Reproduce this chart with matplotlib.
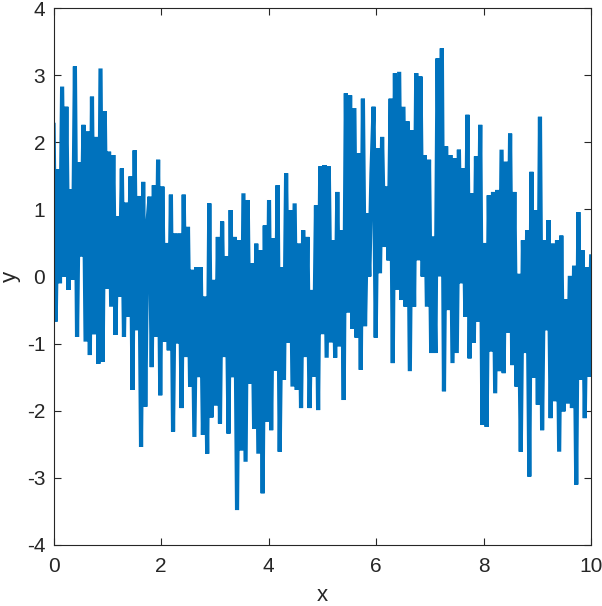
"""Noisy sinusoid, MATLAB-style line plot -> out.png"""

import numpy as np
import matplotlib
matplotlib.use("Agg")
import matplotlib.pyplot as plt

# ── Data (one list per unit of x) ─────────────────────────────────────
y_0_1 = [2.26, -0.67, 1.6, -0.1, 2.83, 0.0, 2.53, -0.2, 1.3, -0.05, 3.13, -0.90, 1.7,
         0.3, 2.26, -0.97, 2.16, -1.17, 2.68, -0.86, 2.08, -1.3, 3.10, -1.27, 2.46]
y_1_2 = [-0.18, 1.86, -0.45, 1.81, -0.87, 0.9, -0.3, 1.61, -0.9, 1.1, -0.6, 1.49, -1.69,
         1.88, -0.8, 1.2, -2.54, 1.41, -1.94, 0.8, 1.19, -1.35, 1.36, -0.9, 1.74]
y_2_3 = [-1.77, 1.34, -0.97, 0.5, -1.1, 1.22, -2.31, 0.64, -1.0, 0.64, -1.96, 1.22, -1.2,
         0.74, -1.64, 0.1, -2.39, 0.14, -1.5, 0.14, -2.36, -0.3, -2.64, 1.09, -2.1]
y_3_4 = [-0.05, -1.92, 0.59, -2.19, 0.82, -1.2, 0.3, -2.34, 0.99, -1.5, 0.59, -3.48, 0.54,
         -2.59, 1.24, -2.76, 1.14, -1.6, 0.2, -2.27, 0.49, -2.64, 0.39, -3.23, 0.76]
y_4_5 = [-2.16, 1.14, -2.29, 0.57, -1.4, 1.36, -2.61, 0.14, -1.54, 1.54, -0.99, 0.99, -1.64,
         1.09, -1.69, 0.49, -1.96, 0.69, -1.2, 0.59, -1.96, -0.2, -1.49, 1.06, -1.99]
y_5_6 = [1.64, -0.86, 1.66, -1.21, 1.64, -0.98, 0.54, -1.21, 1.26, -1.04, 0.69, -1.84, 2.73,
         -0.54, 2.70, -0.78, 2.51, -0.91, 1.84, -1.39, 2.65, -0.74, 0.94, 0.0, 1.54]
y_6_7 = [2.53, -0.91, 1.91, 0.05, 2.08, 0.44, 1.34, 0.24, 2.65, -1.29, 3.03, -0.2, 3.05,
         -0.35, 2.53, -0.45, 2.31, -1.41, 2.18, -0.45, 3.03, 0.24, 2.98, 0.0, 1.81]
y_7_8 = [-0.45, 1.74, -1.14, 0.6, -1.14, 3.25, 0.0, 3.40, -1.71, 1.94, -0.5, 1.81, -1.29,
         1.76, -1.14, 1.89, -0.1, 1.61, -0.6, 2.41, -1.22, 1.24, -0.99, 1.79, -0.67]
y_8_9 = [2.26, -2.21, 0.5, -2.24, 1.21, -1.12, 1.26, -1.74, 1.29, -1.41, 1.89, -1.44, 1.71,
         -0.84, 2.13, -1.32, 1.26, -1.64, 0.04, -2.61, 0.54, -1.14, 0.69, -2.98, 1.56]
y_9_10 = [-1.51, 0.99, -1.91, 2.38, -2.29, 0.54, -0.8, 0.84, -2.11, 0.49, -1.86, 0.54, -2.61,
          0.61, -2.01, -0.34, -1.89, 0.01, -1.96, 0.16, -3.1, 0.96, -1.54, 0.39, -2.11,
          0.14, -1.49, 0.3]

x_range = (0, 10)
y_range = (-4, 4)
x_ticks = [0, 2, 4, 6, 8, 10]
y_ticks = [-4, -3, -2, -1, 0, 1, 2, 3, 4]

LINE = "#0072BD"
INK = "#262626"

y = np.array(y_0_1 + y_1_2 + y_2_3 + y_3_4 + y_4_5 +
             y_5_6 + y_6_7 + y_7_8 + y_8_9 + y_9_10)
x = np.linspace(x_range[0], x_range[1], len(y))

plt.rcParams["font.family"] = ["Liberation Sans", "DejaVu Sans"]
plt.rcParams["axes.unicode_minus"] = False

fig = plt.figure(figsize=(6.02, 6.06), dpi=100)
ax = fig.add_axes([0.089, 0.1007, 0.893, 0.886])

ax.plot(x, y, color=LINE, linewidth=3.0, solid_joinstyle="miter")

ax.set_xlim(*x_range)
ax.set_ylim(*y_range)
ax.set_xticks(x_ticks)
ax.set_yticks(y_ticks)
ax.tick_params(direction="in", top=True, right=True, length=5, width=0.8,
               colors=INK, labelsize=15)
ax.tick_params(axis="x", pad=9)
ax.tick_params(axis="y", pad=6)
for s in ax.spines.values():
    s.set_color(INK)
    s.set_linewidth(0.8)

ax.set_xlabel("x", fontsize=16, color=INK, labelpad=6)
ax.set_ylabel("y", fontsize=16, color=INK, labelpad=4)

fig.savefig("out.png", dpi=100)
